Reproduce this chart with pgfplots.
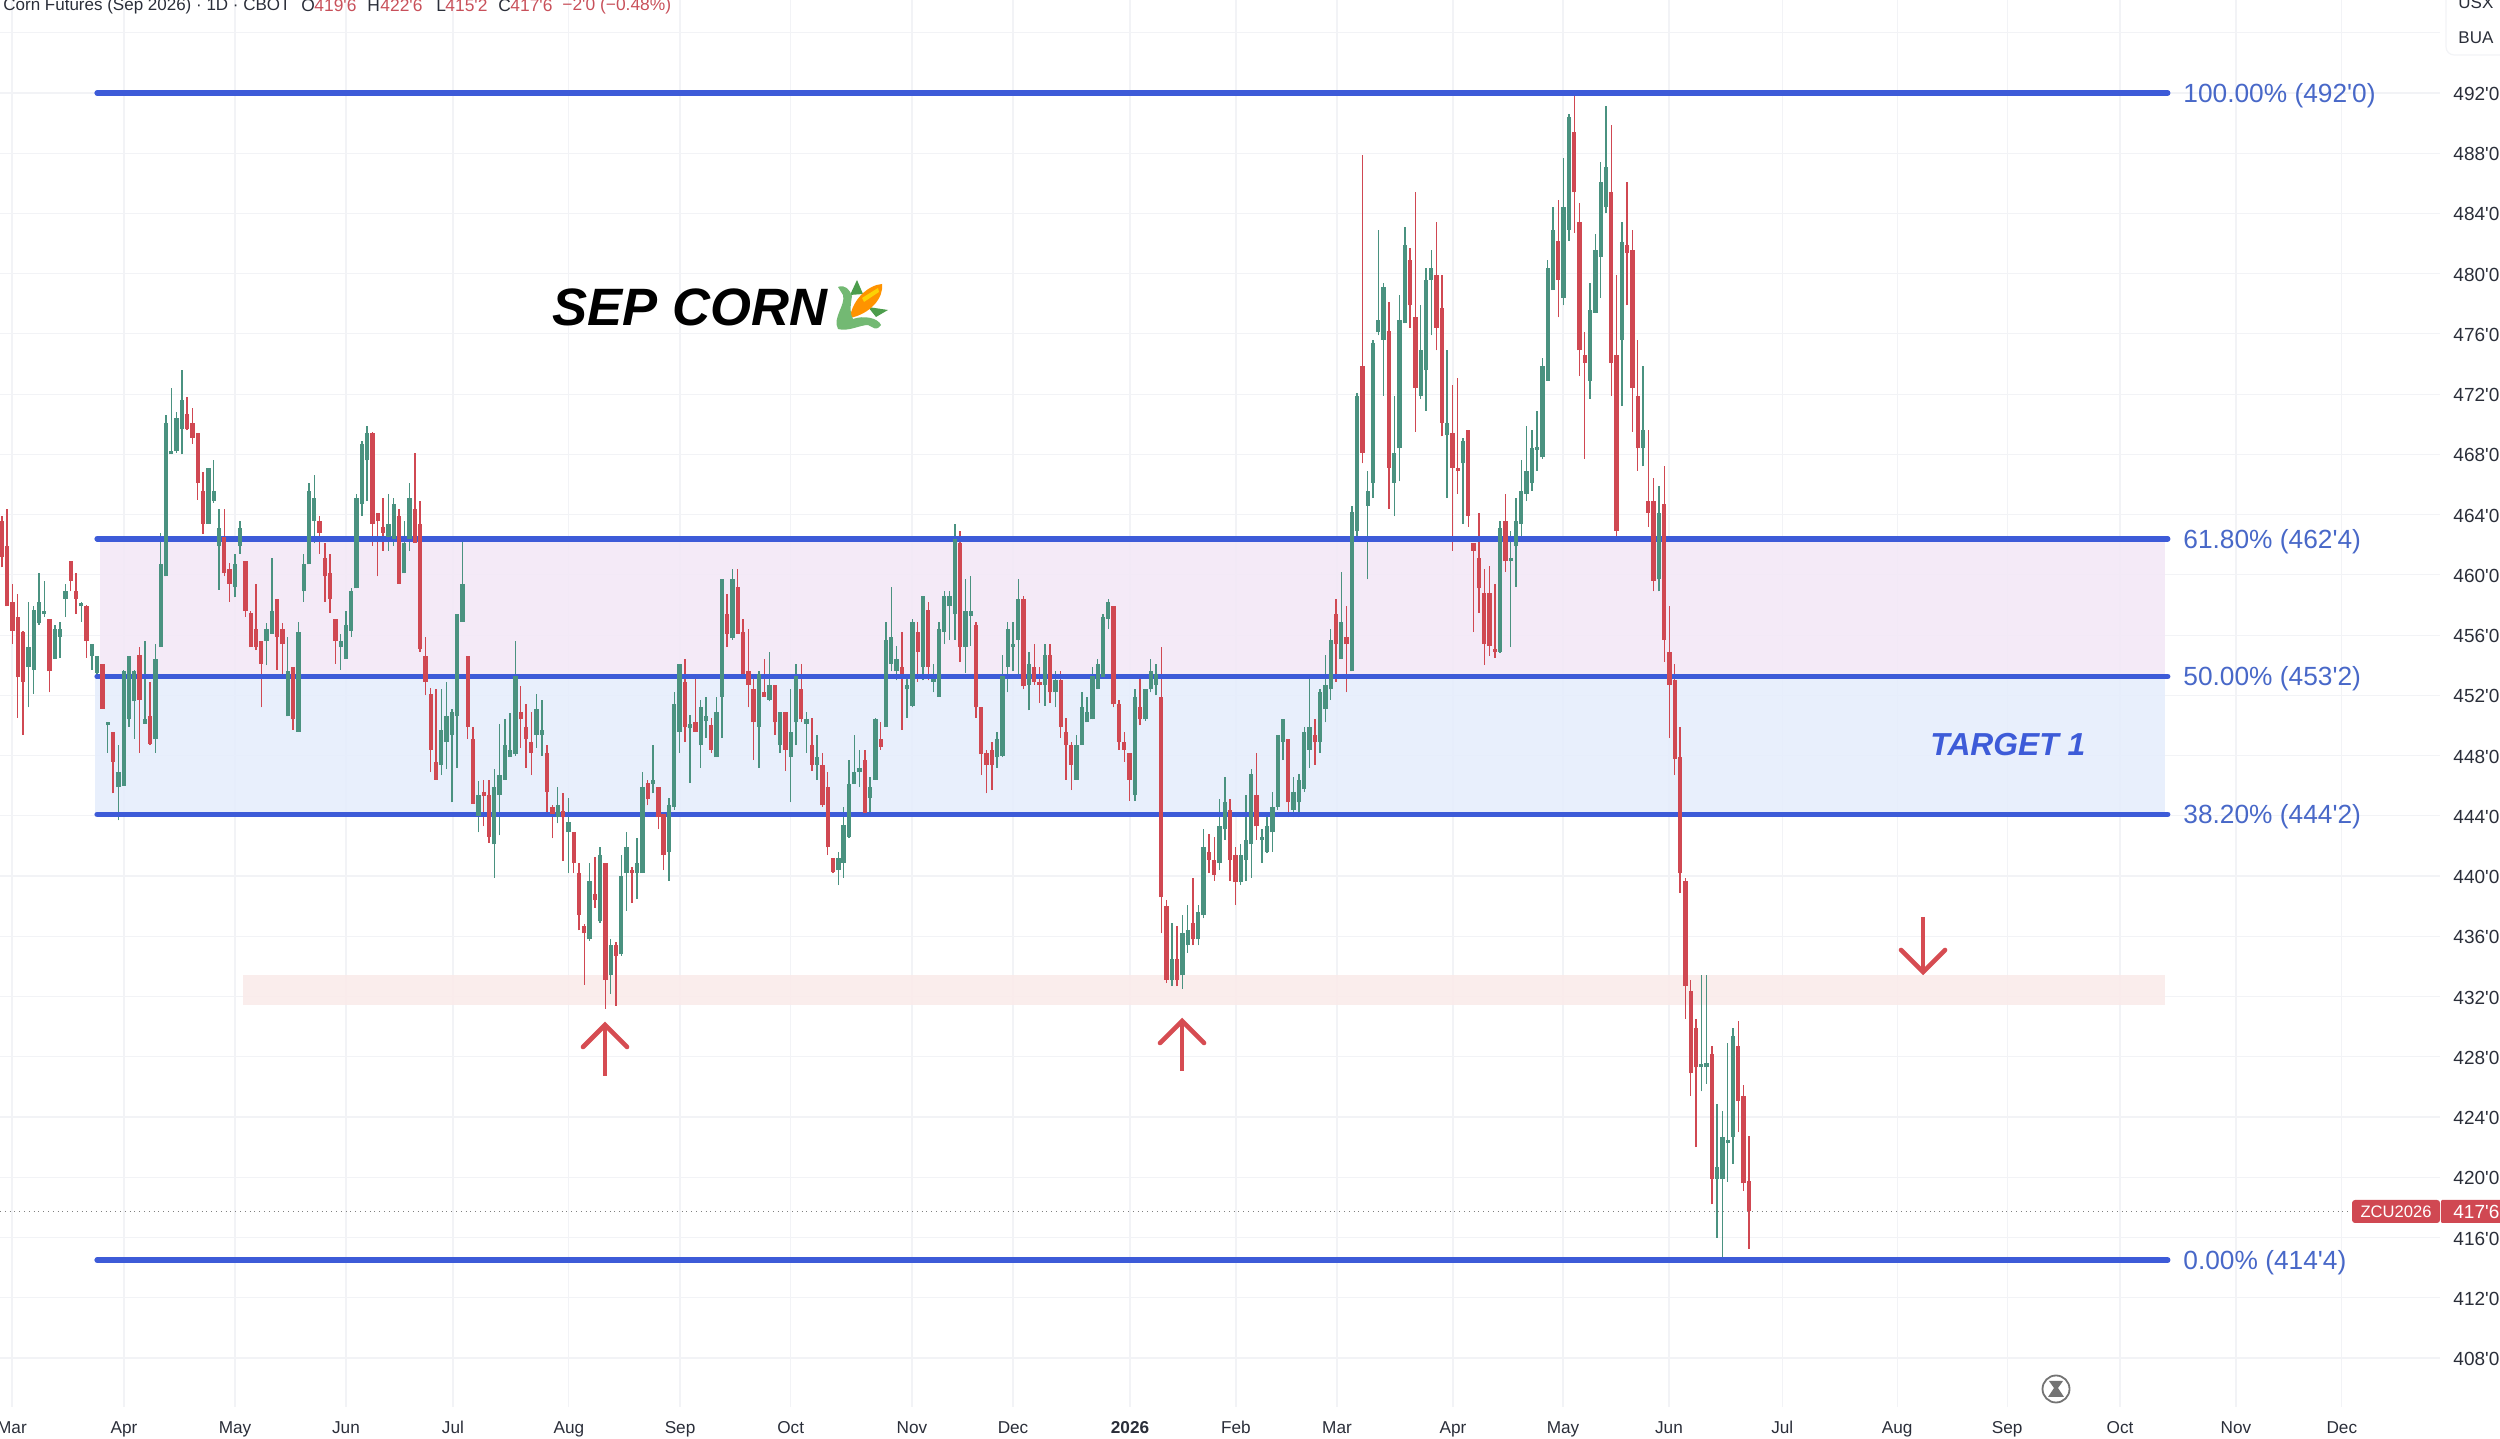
\documentclass[border=0pt]{standalone}
\usepackage{pgfplots}
\usepackage{pgfplotstable}
\usepackage{fontspec}
\pgfplotsset{compat=1.18}
\newfontfamily\lib{Liberation Sans}
\definecolor{grn}{RGB}{74,146,128}
\definecolor{rd}{RGB}{208,72,82}
\definecolor{fibb}{RGB}{61,91,216}
\definecolor{fibt}{RGB}{72,104,200}
\definecolor{gridc}{RGB}{242,243,246}
\definecolor{pinkz}{RGB}{243,232,246}
\definecolor{bluez}{RGB}{229,237,252}
\definecolor{redz}{RGB}{250,235,234}
\definecolor{arrowc}{RGB}{214,76,82}
\definecolor{lab}{RGB}{42,46,57}
\definecolor{hdr}{RGB}{200,80,90}
\pgfplotstableread{
x bl bh l h
0 461.2 463.6 460.5 463.9
1 457.9 461.9 457.9 464.4
2 456.3 458.2 455.4 459.4
3 453.2 457.2 450.5 458.7
4 452.9 456.2 449.4 456.3
9 453.6 457.1 452.2 457.1
13 459.6 460.9 458.9 460.9
14 458.4 458.9 457.4 460.1
16 455.6 457.9 454.5 458.0
19 451.1 454.1 451.1 454.1
21 447.6 449.6 445.5 449.6
26 451.7 454.7 448.2 455.2
28 448.8 450.6 448.7 452.9
35 469.7 470.7 469.6 471.8
36 469.1 470.1 468.7 471.1
37 466.1 469.4 465.0 469.4
38 463.4 465.6 462.7 466.8
42 460.1 462.5 459.9 464.4
43 459.4 460.4 458.2 460.8
46 457.6 460.9 457.2 460.9
47 455.2 457.5 455.2 457.6
48 455.2 456.4 455.0 459.4
49 454.1 455.6 451.2 455.6
52 455.9 458.4 453.7 458.4
53 455.4 456.4 453.4 456.8
55 450.4 453.9 449.7 453.9
60 462.8 463.6 461.4 463.9
61 459.9 461.1 458.2 462.1
62 458.4 460.1 457.5 461.4
63 455.6 457.1 454.1 457.1
70 463.4 469.4 461.9 469.5
71 463.6 464.1 459.9 464.1
72 462.8 463.2 461.6 465.1
75 459.4 463.9 459.4 464.4
78 462.1 464.4 462.1 468.1
79 455.1 463.4 454.9 464.9
80 452.9 454.6 452.0 455.9
81 448.4 452.1 446.9 452.5
82 446.4 447.6 446.4 452.4
88 449.9 454.6 449.1 454.6
89 444.8 449.1 444.8 449.9
91 445.3 445.6 443.3 446.4
92 442.6 445.4 442.2 446.4
98 450.4 450.9 448.5 452.6
99 449.1 449.9 447.2 451.4
100 448.2 448.9 446.7 450.9
103 445.6 448.2 444.2 448.7
104 444.1 444.6 442.5 444.7
106 443.9 444.3 441.0 445.5
108 440.9 442.9 440.2 442.9
109 437.4 440.2 436.4 440.9
110 436.2 436.7 432.8 436.8
112 438.4 438.8 437.9 441.3
114 433.1 440.9 431.2 440.9
116 434.7 435.4 431.4 435.6
119 440.2 440.4 438.2 440.6
122 445.1 446.2 444.7 446.4
124 443.9 445.9 443.1 445.9
125 441.4 444.1 440.4 444.1
129 449.9 452.9 448.9 454.4
131 449.6 450.2 449.6 453.4
134 448.4 450.0 448.2 450.5
137 456.1 457.4 455.2 458.7
139 456.1 459.2 456.1 460.4
140 453.4 456.2 453.2 457.1
141 452.7 453.6 451.2 456.4
142 450.2 452.4 447.7 453.1
144 451.9 452.2 451.9 454.4
146 450.2 452.7 449.4 452.7
148 448.4 450.9 447.0 450.9
151 450.4 452.4 450.2 454.1
153 447.4 448.7 447.0 450.5
155 444.7 447.4 444.6 448.2
156 441.9 445.9 441.4 446.9
157 440.3 441.2 440.2 441.2
163 444.2 447.7 444.1 448.4
166 448.6 449.1 448.4 450.2
170 453.4 453.9 449.7 456.2
173 454.9 456.2 452.9 456.9
175 453.9 457.7 453.0 458.2
181 455.2 462.1 454.2 462.9
184 451.2 456.7 450.5 456.9
185 448.1 451.2 446.7 451.2
186 447.4 448.2 445.5 448.4
187 447.4 448.4 445.7 448.9
193 452.6 458.4 452.4 458.6
195 452.9 453.9 452.7 455.4
196 452.7 452.9 451.5 453.9
198 452.2 454.7 451.5 455.4
200 449.9 453.0 449.2 453.6
201 448.7 449.6 446.4 450.5
202 447.4 448.7 445.7 448.9
210 451.4 457.9 451.2 457.9
211 448.9 451.4 448.4 451.7
212 448.4 448.9 447.6 449.6
213 446.4 448.2 445.0 448.2
215 450.4 451.2 450.0 453.4
219 438.6 451.9 436.2 455.2
220 433.1 438.0 432.9 438.4
222 433.1 434.5 432.7 436.7
225 435.8 436.9 435.4 439.9
228 441.1 441.6 440.2 442.8
229 440.1 441.1 439.7 442.6
232 441.1 444.4 439.7 445.1
233 439.6 441.4 438.1 441.9
237 443.3 445.4 442.4 448.2
243 444.9 449.1 443.9 449.1
248 448.9 449.4 447.4 450.4
252 455.4 457.4 452.9 458.4
254 455.4 455.9 452.2 457.9
257 468.1 473.9 467.4 487.9
262 467.1 476.2 464.4 478.1
266 477.9 480.9 476.4 481.7
267 472.4 477.1 469.5 485.4
271 476.4 479.9 474.9 483.4
272 470.1 477.7 469.2 479.9
274 467.1 469.4 461.6 472.6
275 466.9 467.1 465.4 473.1
277 463.9 469.6 463.2 469.6
278 461.6 462.1 456.2 462.1
279 459.1 461.1 457.5 464.1
280 455.4 458.8 454.0 460.4
281 455.3 458.8 454.6 460.6
282 454.9 455.1 454.5 459.4
284 460.9 463.6 460.2 465.4
294 479.6 482.2 477.1 484.9
297 485.4 489.4 482.7 491.8
298 474.9 483.4 473.2 484.7
299 474.1 474.6 467.7 476.1
304 474.1 485.4 471.9 489.9
305 462.9 474.6 462.2 479.9
307 481.4 481.9 477.9 486.1
308 472.4 481.6 469.5 482.9
309 468.4 471.9 466.9 475.6
311 464.1 464.9 463.2 469.6
312 459.6 464.9 458.9 466.4
314 455.7 464.7 454.2 467.2
315 452.7 454.9 449.2 457.9
316 447.8 453.0 446.7 454.1
317 440.2 447.9 438.9 449.9
318 432.7 439.7 430.5 439.9
319 426.9 432.4 425.4 433.1
320 427.3 429.9 422.0 430.5
323 419.9 428.2 418.2 428.7
328 425.1 428.7 423.0 430.4
329 419.6 425.4 419.1 426.1
330 417.75 419.75 415.25 422.75
}\reddata
\pgfplotstableread{
x bl bh l h
5 453.9 455.2 451.2 458.2
6 453.7 457.7 452.1 457.9
7 456.8 458.2 456.7 460.1
8 457.4 457.6 457.2 459.6
10 454.4 456.4 454.4 456.7
11 455.9 456.4 454.5 456.9
12 458.4 458.9 457.2 459.4
15 457.9 458.1 456.9 458.2
17 454.6 455.4 453.7 455.4
18 453.5 454.6 453.1 454.6
20 450.0 450.2 448.2 450.2
22 445.9 446.9 443.7 448.7
23 446.0 453.6 446.0 453.7
24 450.4 454.6 449.9 454.6
25 451.6 453.6 449.1 453.7
27 450.1 450.4 450.1 455.6
29 449.1 454.4 448.2 455.4
30 455.2 460.7 455.2 462.8
31 459.9 470.1 459.9 470.6
32 468.0 468.2 468.0 472.4
33 468.2 470.4 468.1 470.8
34 469.7 471.6 468.0 473.6
39 463.4 467.1 463.4 467.1
40 464.9 465.6 464.8 467.6
41 461.9 463.1 459.0 464.4
44 459.2 460.7 458.5 461.4
45 461.9 463.1 461.4 463.6
50 455.6 456.4 454.0 456.8
51 456.1 457.6 456.1 461.1
54 450.6 453.6 450.6 455.9
56 449.6 456.2 449.6 456.9
57 458.9 460.7 458.2 461.4
58 460.7 465.6 460.7 466.1
59 463.6 465.1 462.1 466.6
64 455.2 455.6 453.7 456.1
65 454.4 456.7 454.4 457.6
66 456.3 458.9 455.9 459.1
67 459.1 465.1 459.1 465.4
68 464.7 468.7 463.9 468.9
69 467.6 469.4 464.9 469.9
73 462.5 463.4 461.6 465.4
74 462.4 464.7 461.9 465.1
76 460.1 462.1 460.1 463.6
77 462.4 465.1 461.6 466.1
83 447.4 449.7 446.7 452.4
84 448.9 450.6 447.1 452.9
85 449.4 450.9 444.9 451.1
86 450.6 457.4 447.2 457.4
87 456.9 459.4 456.9 462.2
90 444.0 445.4 442.9 446.3
93 442.1 445.9 439.9 447.1
94 445.4 446.7 442.7 450.1
95 446.4 448.7 446.4 450.4
96 447.9 448.4 447.9 450.8
97 448.1 453.3 448.0 455.6
101 449.4 451.1 448.5 452.1
102 449.4 449.7 448.0 451.7
105 443.9 444.7 443.5 445.9
107 442.9 443.6 440.2 445.2
111 435.8 439.7 435.7 440.9
113 437.0 441.4 436.9 441.9
115 433.4 435.4 432.2 435.8
117 434.8 440.0 434.7 441.4
118 440.2 441.9 437.7 442.9
120 440.2 440.9 438.5 442.5
121 440.2 445.9 440.2 446.9
123 446.1 446.4 445.5 448.7
126 441.6 444.7 439.7 445.2
127 444.6 451.4 444.4 452.2
128 449.6 454.1 448.2 454.1
130 449.8 450.1 446.2 450.7
132 448.7 451.2 447.2 451.7
133 450.3 450.6 449.2 451.9
135 447.9 450.9 447.9 451.9
136 451.9 459.7 449.2 459.7
138 455.8 459.7 455.7 460.4
143 449.9 453.4 447.2 453.6
145 451.7 452.7 451.6 454.9
147 448.7 450.9 448.2 450.9
149 447.9 449.6 444.9 452.4
150 450.2 453.3 448.7 454.1
152 450.1 450.4 448.2 450.9
154 447.4 447.9 446.4 449.4
158 440.4 441.2 439.4 441.6
159 440.9 443.4 439.9 444.6
160 442.6 446.1 442.5 447.7
161 446.1 446.9 446.1 449.4
162 446.9 447.2 445.9 448.4
164 445.2 445.9 444.0 446.6
165 446.4 450.4 446.4 450.5
167 449.9 455.7 449.9 456.9
168 454.1 455.9 453.6 459.2
169 453.6 454.4 453.0 455.3
171 452.4 452.7 450.5 453.3
172 451.3 456.9 451.2 457.1
174 453.9 458.6 453.0 458.6
176 452.9 453.1 452.2 454.1
177 451.9 456.4 451.9 456.9
178 456.2 458.6 455.4 458.9
179 457.9 458.6 455.7 458.9
180 457.4 462.4 455.7 463.4
182 455.2 457.6 453.5 459.7
183 457.3 457.6 455.3 459.9
188 447.9 449.1 447.2 449.6
189 448.0 453.3 447.9 454.7
190 453.9 456.4 452.2 456.9
191 455.2 455.4 453.6 456.9
192 455.7 458.4 453.3 459.7
194 452.7 454.1 451.0 454.9
197 452.7 454.7 451.3 455.4
199 452.2 453.0 451.2 453.6
203 446.4 448.7 446.4 449.4
204 448.7 451.2 448.7 452.2
205 450.2 450.9 450.2 451.9
206 450.4 453.3 450.4 453.9
207 452.4 454.1 452.4 454.4
208 453.2 457.2 453.2 457.4
209 457.1 458.2 456.4 458.4
214 445.4 451.9 445.0 452.4
216 450.4 452.4 450.3 452.4
217 452.4 453.6 452.2 454.4
218 452.7 453.4 452.0 454.1
221 433.1 434.5 432.7 436.9
223 433.4 436.2 432.5 437.4
224 435.4 436.4 434.9 438.1
226 435.8 437.6 435.4 438.1
227 437.4 441.9 437.2 443.1
230 440.9 443.3 440.4 445.1
231 443.1 444.9 442.4 446.6
234 439.6 441.4 439.4 442.1
235 441.1 442.4 439.7 445.4
236 442.1 446.8 439.9 447.1
238 442.4 442.6 440.9 443.1
239 441.6 443.3 441.5 443.9
240 442.9 444.6 441.6 445.6
241 444.6 449.4 444.4 449.4
242 448.9 450.4 447.7 450.4
244 444.4 445.6 443.9 446.6
245 444.9 446.4 443.9 446.8
246 445.8 449.6 445.6 449.9
247 448.4 449.9 447.2 453.1
249 448.9 452.2 448.2 452.4
250 451.1 452.7 450.2 454.7
251 452.4 455.7 451.7 456.4
253 454.4 456.9 454.4 460.2
255 453.6 464.2 453.6 464.6
256 462.9 471.9 462.5 472.1
258 464.6 465.6 459.7 466.9
259 466.1 475.4 465.1 475.6
260 476.1 476.9 475.9 482.9
261 475.6 479.1 471.9 479.4
263 466.1 468.1 463.9 471.9
264 468.4 476.9 466.2 478.6
265 476.7 481.9 476.7 483.1
268 471.9 474.9 471.7 477.9
269 473.6 479.6 470.9 480.4
270 479.6 480.4 475.9 481.6
273 469.3 470.1 465.1 474.9
276 467.4 468.9 463.4 469.1
283 454.9 463.1 454.8 463.6
285 460.9 461.1 455.2 462.9
286 461.9 463.6 459.2 465.1
287 463.4 465.6 462.4 467.6
288 465.4 466.9 464.9 469.9
289 466.1 468.4 465.6 469.6
290 468.3 468.5 466.9 470.9
291 467.8 473.9 467.7 474.4
292 472.9 480.4 472.9 480.9
293 478.9 482.9 478.9 484.4
295 478.4 484.4 477.9 487.7
296 482.9 490.4 482.2 490.6
300 472.9 477.6 471.7 479.4
301 477.4 481.6 477.4 482.6
302 481.1 486.1 478.4 487.4
303 484.4 487.1 484.0 491.1
306 475.6 482.1 471.2 483.4
310 468.4 469.6 467.2 473.9
313 459.7 464.1 458.9 465.9
321 427.3 427.5 425.7 433.4
322 427.3 427.6 426.2 433.4
324 419.9 420.7 416.0 424.9
325 419.9 422.7 414.6 424.4
326 422.3 422.5 419.7 428.9
327 422.7 429.4 420.9 429.9
}\greendata
\newcommand{\fs}[1]{\fontsize{#1}{#1}\selectfont}
\begin{document}
\lib
\begin{tikzpicture}
\useasboundingbox (0pt,-16pt) rectangle (1250pt,703.5pt);
\begin{axis}[
  at={(0pt,0pt)},anchor=south west,
  scale only axis,width=1220pt,height=703.5pt,
  xmin=-0.36,xmax=460.55,ymin=404.75,ymax=498.17,
  axis line style={draw=none},
  major tick length=0pt,
  grid=major,grid style={draw=gridc,line width=0.6pt},
  ytick={408,412,416,420,424,428,432,436,440,444,448,452,456,460,464,468,472,476,480,484,488,492,496},
  yticklabels={408'0,412'0,416'0,420'0,424'0,428'0,432'0,436'0,440'0,444'0,448'0,452'0,456'0,460'0,464'0,468'0,472'0,476'0,480'0,484'0,488'0,492'0,{}},
  yticklabel pos=right,
  y tick label style={anchor=west,inner sep=0pt,xshift=6.5pt,yshift=-0.5pt,text=lab,font=\fs{9.5}},
  xtick={1.9,23.06,44.03,65,85.2,107.1,128.1,149,171.9,191,213.1,233.1,252.2,274.1,294.9,314.9,336.3,358,378.8,400.1,422,442},
  xticklabels={Mar,Apr,May,Jun,Jul,Aug,Sep,Oct,Nov,Dec,\textbf{2026},Feb,Mar,Apr,May,Jun,Jul,Aug,Sep,Oct,Nov,Dec},
  x tick label style={anchor=base,inner sep=0pt,yshift=-13.2pt,text=lab,font=\fs{8.6}},
]
% zones
\addplot[draw=none,fill=pinkz,fill opacity=0.9,forget plot] coordinates {(18.5,453.25)(408.6,453.25)(408.6,462.4)(18.5,462.4)};
\addplot[draw=none,fill=bluez,fill opacity=0.9,forget plot] coordinates {(17.6,444.1)(408.6,444.1)(408.6,453.25)(17.6,453.25)};
\addplot[draw=none,fill=redz,fill opacity=0.9,forget plot] coordinates {(45.5,431.47)(408.6,431.47)(408.6,433.4)(45.5,433.4)};
% last price line
\addplot[draw=gray,line width=0.4pt,dotted,forget plot] coordinates {(-0.36,417.75)(444,417.75)};
% wicks
\addplot[draw=none,mark=none,forget plot,error bars/.cd,y dir=plus,y explicit,error mark=none,error bar style={draw=grn,line width=0.7pt}] table[x=x,y=l,y error plus expr=\thisrow{h}-\thisrow{l}] {\greendata};
\addplot[draw=none,mark=none,forget plot,error bars/.cd,y dir=plus,y explicit,error mark=none,error bar style={draw=rd,line width=0.7pt}] table[x=x,y=l,y error plus expr=\thisrow{h}-\thisrow{l}] {\reddata};
% fib lines
\addplot[draw=fibb,line width=2.8pt,line cap=round,forget plot] coordinates {(18.0,492)(409.1,492)};
\addplot[draw=fibb,line width=2.8pt,line cap=round,forget plot] coordinates {(18.0,462.4)(409.1,462.4)};
\addplot[draw=fibb,line width=2.8pt,line cap=round,forget plot] coordinates {(18.0,453.25)(409.1,453.25)};
\addplot[draw=fibb,line width=2.8pt,line cap=round,forget plot] coordinates {(18.0,444.1)(409.1,444.1)};
\addplot[draw=fibb,line width=2.8pt,line cap=round,forget plot] coordinates {(18.0,414.5)(409.1,414.5)};
% bodies
\addplot[draw=none,mark=none,forget plot,error bars/.cd,y dir=plus,y explicit,error mark=none,error bar style={draw=grn,line width=2.15pt}] table[x=x,y=bl,y error plus expr=\thisrow{bh}-\thisrow{bl}] {\greendata};
\addplot[draw=none,mark=none,forget plot,error bars/.cd,y dir=plus,y explicit,error mark=none,error bar style={draw=rd,line width=2.15pt}] table[x=x,y=bl,y error plus expr=\thisrow{bh}-\thisrow{bl}] {\reddata};
\end{axis}
\begin{scope}[x=0.5pt,y=-0.5pt,shift={(0pt,703.5pt)}]
% header
\node[anchor=west,inner sep=0pt,font=\fs{8.5},text=lab] at (3,6) {Corn Futures (Sep 2026) · 1D · CBOT};
\foreach \xa/\ta in {301/O,367/H,436/L,498/C}{\node[anchor=west,inner sep=0pt,font=\fs{8.7},text=lab] at (\xa,6) {\ta};}
\foreach \xa/\ta in {314/419'6,380/422'6,445/415'2,510/417'6,562/−2'0 (−0.48\%)}{\node[anchor=west,inner sep=0pt,font=\fs{8.7},text=hdr] at (\xa,6) {\ta};}
% top-right box
\draw[draw=gridc,fill=white,rounded corners=4pt,line width=0.6pt] (2446,-10) rectangle (2520,55);
\node[anchor=west,inner sep=0pt,font=\fs{8.5},text=lab] at (2458,3) {USX};
\node[anchor=west,inner sep=0pt,font=\fs{8.5},text=lab] at (2458,38) {BUA};
% fib labels
\node[anchor=west,inner sep=0pt,font=\fs{13.15},text=fibt] at (2183,95.5) {100.00\% (492'0)};
\node[anchor=west,inner sep=0pt,font=\fs{13.15},text=fibt] at (2183,541.5) {61.80\% (462'4)};
\node[anchor=west,inner sep=0pt,font=\fs{13.15},text=fibt] at (2183,678.5) {50.00\% (453'2)};
\node[anchor=west,inner sep=0pt,font=\fs{13.15},text=fibt] at (2183,816.5) {38.20\% (444'2)};
\node[anchor=west,inner sep=0pt,font=\fs{13.15},text=fibt] at (2183,1262.5) {0.00\% (414'4)};
% titles
\node[anchor=west,inner sep=0pt,font=\fs{26.3}\bfseries\itshape,text=black] at (552,307) {SEP CORN};
\node[anchor=west,inner sep=0pt,font=\fs{15.9}\bfseries\itshape,text=fibb] at (1930,745) {TARGET 1};
% corn icon
\fill[green!45!black!70!white] (850,295) -- (857,280) -- (863,294) -- cycle;
\fill[green!45!black!70!white] (868,307) -- (888,310) -- (876,317) -- cycle;
\fill[orange!85!yellow] (850,318) .. controls (852,300) and (868,285) .. (882,284) .. controls (884,298) and (870,314) .. (850,318) -- cycle;
\fill[yellow!70!orange] (862,298) -- (878,288) -- (879,292) -- (864,302) -- cycle;
\fill[green!50!black!55!white] (838,287) .. controls (845,284) and (850,290) .. (852,296) .. controls (850,308) and (850,314) .. (853,319) .. controls (864,315) and (878,318) .. (881,325) .. controls (876,332) and (873,327) .. (868,325) .. controls (860,325) and (848,332) .. (838,329) .. controls (832,318) and (846,305) .. (843,295) -- cycle;
% arrows
\draw[arrowc,line width=2.3pt] (605,1076) -- (605,1026);
\draw[arrowc,line width=2.3pt,line cap=round,line join=miter] (583,1047) -- (605,1025) -- (627,1047);
\draw[arrowc,line width=2.3pt] (1182,1071) -- (1182,1022);
\draw[arrowc,line width=2.3pt,line cap=round,line join=miter] (1160,1043) -- (1182,1021) -- (1204,1043);
\draw[arrowc,line width=2.3pt] (1923,917) -- (1923,971);
\draw[arrowc,line width=2.3pt,line cap=round,line join=miter] (1901,950) -- (1923,972) -- (1945,950);
% price label
\fill[rd,rounded corners=1.5pt] (2352,1200) rectangle (2440,1223);
\fill[rd,rounded corners=0.5pt] (2441,1200) rectangle (2510,1223);
\node[anchor=center,inner sep=0pt,font=\fs{8.3},text=white] at (2396,1212) {ZCU2026};
\node[anchor=west,inner sep=0pt,font=\fs{9.5},text=white] at (2453,1212) {417'6};
% hourglass
\draw[gray!90!black,line width=0.9pt] (2056,1389) circle [radius=13.5];
\fill[gray!90!black] (2049,1381) -- (2063,1381) -- (2058,1388) -- (2064,1397) -- (2048,1397) -- (2054,1388) -- cycle;
\end{scope}
\end{tikzpicture}
\end{document}
